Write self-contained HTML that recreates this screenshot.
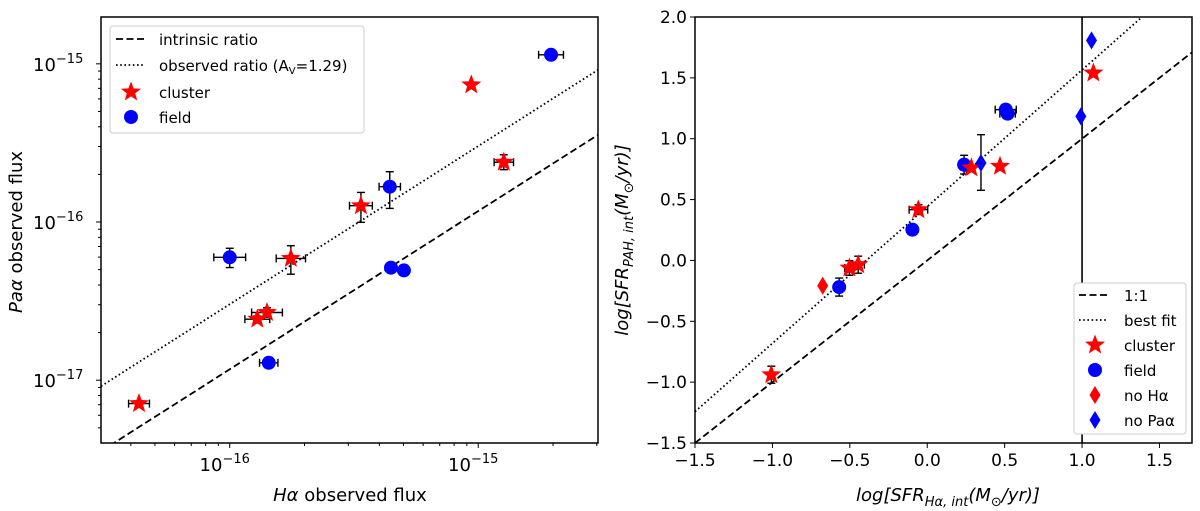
<!DOCTYPE html>
<html><head><meta charset="utf-8">
<style>
html,body{margin:0;padding:0;background:#fff;}
svg{display:block;font-family:"DejaVu Sans","Liberation Sans",sans-serif;}
</style></head>
<body>
<svg id="fig" width="1200" height="511" viewBox="0 0 1200 511" xmlns="http://www.w3.org/2000/svg">
<g id="left"></g>
<g id="right"></g>
</svg>
<script>
// ---------- Left panel data (log10 flux) ----------
const leftXDomain = [-16.518, -14.518];
const leftYDomain = [-17.397, -14.704];
const intrinsicOffset = -0.931;
const observedOffset = -0.52;
const clusterHa = [-15.028, -14.897, -15.472, -15.754, -15.85, -15.889, -16.365];
const clusterPa = [-15.133, -15.622, -15.897, -16.23, -16.572, -16.614, -17.148];
const clusterHaErr = [0, 0.039, 0.046, 0.059, 0.062, 0.05, 0.042];
const clusterPaErrUp = [0, 0.047, 0.084, 0.08, 0.03, 0.02, 0];
const clusterPaErrDn = [0, 0.047, 0.105, 0.1, 0.03, 0.02, 0];
const fieldHa = [-14.707, -15.356, -16.0, -15.351, -15.299, -15.843];
const fieldPa = [-14.943, -15.777, -16.223, -16.289, -16.306, -16.89];
const fieldHaErr = [0.05, 0.043, 0.064, 0, 0, 0.037];
const fieldPaErrUp = [0, 0.095, 0.057, 0, 0, 0];
const fieldPaErrDn = [0, 0.137, 0.065, 0, 0, 0];
const leftDecades = [-16, -15];
const leftYDecades = [-17, -16, -15];

// ---------- Right panel data ----------
const rightXDomain = [-1.5, 1.71];
const rightYDomain = [-1.5, 2.0];
const rightXTicks = [-1.5, -1.0, -0.5, 0.0, 0.5, 1.0, 1.5];
const rightYTicks = [-1.5, -1.0, -0.5, 0.0, 0.5, 1.0, 1.5, 2.0];
const fitSlope = 1.123;
const fitIntercept = 0.442;
const vlineX = 1.0;
const rClusterX = [1.073, 0.47, 0.285, -0.057, -0.446, -0.503, -1.007];
const rClusterY = [1.54, 0.773, 0.76, 0.417, -0.035, -0.062, -0.939];
const rClusterXErr = [0, 0, 0, 0.06, 0.04, 0.03, 0];
const rClusterYErr = [0, 0, 0, 0.04, 0.07, 0.06, 0.07];
const rFieldX = [0.507, 0.519, 0.238, -0.096, -0.569];
const rFieldY = [1.239, 1.206, 0.787, 0.253, -0.219];
const rFieldXErr = [0.068, 0.05, 0, 0, 0];
const rFieldYErr = [0, 0, 0.077, 0, 0.074];
const noHaX = [-0.675];
const noHaY = [-0.208];
const noPaX = [1.061, 0.992, 0.347];
const noPaY = [1.808, 1.184, 0.8];
const noPaYErrUp = [0, 0, 0.233];
const noPaYErrDn = [0, 0, 0.224];

const NS = "http://www.w3.org/2000/svg";
const DASH = "7,3.5", DOT = "1.6,2.6";
function mk(parent, tag, attrs, text) {
  const e = document.createElementNS(NS, tag);
  for (const k in attrs) e.setAttribute(k, attrs[k]);
  if (text !== undefined) e.textContent = text;
  parent.appendChild(e);
  return e;
}
function starPts(cx, cy, R) {
  const r = R * 0.42, p = [];
  for (let i = 0; i < 10; i++) {
    const a = -Math.PI / 2 + i * Math.PI / 5, rr = i % 2 ? r : R;
    p.push((cx + rr * Math.cos(a)).toFixed(1) + "," + (cy + rr * Math.sin(a)).toFixed(1));
  }
  return p.join(" ");
}
function drawStar(g, cx, cy, name) {
  const s = mk(g, "polygon", {points: starPts(cx, cy, 10.5), fill: "#ff0000"});
  
  
}
function drawCircle(g, cx, cy, name) {
  const c = mk(g, "circle", {cx: cx, cy: cy, r: 7, fill: "#0000ff"});
  
  
}
function drawDiamond(g, cx, cy, color, name) {
  const d = mk(g, "polygon", {points: `${cx},${cy-9} ${cx+5.5},${cy} ${cx},${cy+9} ${cx-5.5},${cy}`, fill: color});
  
  
}
function errBar(g, x1, y1, x2, y2, horiz) {
  if (x1 === x2 && y1 === y2) return;
  const e = mk(g, "g", {});
  
  
  mk(e, "line", {x1, y1, x2, y2, stroke: "#000", "stroke-width": 1.4});
  if (horiz) {
    mk(e, "line", {x1: x1, y1: y1 - 4, x2: x1, y2: y1 + 4, stroke: "#000", "stroke-width": 1.4});
    mk(e, "line", {x1: x2, y1: y2 - 4, x2: x2, y2: y2 + 4, stroke: "#000", "stroke-width": 1.4});
  } else {
    mk(e, "line", {x1: x1 - 4, y1: y1, x2: x1 + 4, y2: y1, stroke: "#000", "stroke-width": 1.4});
    mk(e, "line", {x1: x2 - 4, y1: y2, x2: x2 + 4, y2: y2, stroke: "#000", "stroke-width": 1.4});
  }
}

// ================= LEFT PANEL =================
(function () {
  const g = document.getElementById("left");
  const L = 101, R = 598, T = 17, B = 443;
  const sx = v => L + (v - leftXDomain[0]) / (leftXDomain[1] - leftXDomain[0]) * (R - L);
  const sy = v => B - (v - leftYDomain[0]) / (leftYDomain[1] - leftYDomain[0]) * (B - T);
  mk(g, "defs", {}).innerHTML = '<clipPath id="clipL"><rect x="101" y="17" width="497" height="426"/></clipPath>';
  const plot = mk(g, "g", {"clip-path": "url(#clipL)"});
  const il = mk(plot, "line", {x1: sx(leftXDomain[0]), y1: sy(leftXDomain[0] + intrinsicOffset), x2: sx(leftXDomain[1]), y2: sy(leftXDomain[1] + intrinsicOffset), stroke: "#000", "stroke-width": 1.8, "stroke-dasharray": DASH});
  
  
  const ol = mk(plot, "line", {x1: sx(leftXDomain[0]), y1: sy(leftXDomain[0] + observedOffset), x2: sx(leftXDomain[1]), y2: sy(leftXDomain[1] + observedOffset), stroke: "#000", "stroke-width": 1.8, "stroke-dasharray": DOT});
  
  
  clusterHa.forEach((x, i) => {
    const y = clusterPa[i];
    errBar(plot, sx(x - clusterHaErr[i]), sy(y), sx(x + clusterHaErr[i]), sy(y), true);
    errBar(plot, sx(x), sy(y + clusterPaErrUp[i]), sx(x), sy(y - clusterPaErrDn[i]), false);
  });
  fieldHa.forEach((x, i) => {
    const y = fieldPa[i];
    errBar(plot, sx(x - fieldHaErr[i]), sy(y), sx(x + fieldHaErr[i]), sy(y), true);
    errBar(plot, sx(x), sy(y + fieldPaErrUp[i]), sx(x), sy(y - fieldPaErrDn[i]), false);
  });
  clusterHa.forEach((x, i) => drawStar(plot, sx(x), sy(clusterPa[i]), "cluster-point"));
  fieldHa.forEach((x, i) => drawCircle(plot, sx(x), sy(fieldPa[i]), "field-point"));
  const fr = mk(g, "rect", {x: L, y: T, width: R - L, height: B - T, fill: "none", stroke: "#000", "stroke-width": 1.5});
  
  
  const xa = mk(g, "g", {});
  
  
  for (let d = -17; d <= -15; d++) for (let m = 1; m <= 9; m++) {
    const v = d + Math.log10(m);
    if (v < leftXDomain[0] || v > leftXDomain[1]) continue;
    const x = sx(v);
    mk(xa, "line", {x1: x, y1: B, x2: x, y2: B + (m === 1 ? 5 : 3), stroke: "#000", "stroke-width": 1});
  }
  leftDecades.forEach(d => {
    const t = mk(xa, "text", {x: sx(d) - 5, y: B + 28, "font-size": 18, "text-anchor": "middle"});
    t.innerHTML = '10<tspan dy="-8" font-size="13">\u2212' + (-d) + '</tspan>';
  });
  const ya = mk(g, "g", {});
  
  
  for (let d = -18; d <= -15; d++) for (let m = 1; m <= 9; m++) {
    const v = d + Math.log10(m);
    if (v < leftYDomain[0] || v > leftYDomain[1]) continue;
    const y = sy(v);
    mk(ya, "line", {x1: L, y1: y, x2: L - (m === 1 ? 5 : 3), y2: y, stroke: "#000", "stroke-width": 1});
  }
  leftYDecades.forEach(d => {
    const t = mk(ya, "text", {x: 33, y: sy(d) + 7, "font-size": 18});
    t.innerHTML = '10<tspan dy="-8" font-size="13">\u2212' + (-d) + '</tspan>';
  });
  const xt = mk(g, "text", {x: 350, y: 501, "font-size": 18, "text-anchor": "middle"});
  xt.innerHTML = '<tspan font-style="italic">H\u03b1</tspan> observed flux';
  
  
  const yt = mk(g, "text", {x: 0, y: 0, "font-size": 18, "text-anchor": "middle", transform: "translate(22,232) rotate(-90)"});
  yt.innerHTML = '<tspan font-style="italic">Pa\u03b1</tspan> observed flux';
  
  
  const lg = mk(g, "g", {});
  
  
  mk(lg, "rect", {x: 110, y: 26, width: 254, height: 107, rx: 3, fill: "#fff", stroke: "#ccc", "stroke-width": 1});
  mk(lg, "line", {x1: 116, y1: 39, x2: 145, y2: 39, stroke: "#000", "stroke-width": 1.8, "stroke-dasharray": DASH});
  mk(lg, "text", {x: 159, y: 45, "font-size": 15}, "intrinsic ratio");
  mk(lg, "line", {x1: 116, y1: 65, x2: 145, y2: 65, stroke: "#000", "stroke-width": 1.8, "stroke-dasharray": DOT});
  const ot = mk(lg, "text", {x: 159, y: 71, "font-size": 15});
  ot.innerHTML = 'observed ratio (A<tspan dy="3" font-size="10">V</tspan><tspan dy="-3">=1.29)</tspan>';
  drawStar(lg, 131, 92, "legend-cluster-marker");
  mk(lg, "text", {x: 159, y: 98, "font-size": 15}, "cluster");
  drawCircle(lg, 131, 117, "legend-field-marker");
  mk(lg, "text", {x: 159, y: 123, "font-size": 15}, "field");
})();

// ================= RIGHT PANEL =================
(function () {
  const g = document.getElementById("right");
  const L = 695, R = 1192, T = 17, B = 443;
  const sx = v => L + (v - rightXDomain[0]) / (rightXDomain[1] - rightXDomain[0]) * (R - L);
  const sy = v => B - (v - rightYDomain[0]) / (rightYDomain[1] - rightYDomain[0]) * (B - T);
  mk(g, "defs", {}).innerHTML = '<clipPath id="clipR"><rect x="695" y="17" width="497" height="426"/></clipPath>';
  const plot = mk(g, "g", {"clip-path": "url(#clipR)"});
  const x0 = rightXDomain[0], x1 = rightXDomain[1];
  const dl = mk(plot, "line", {x1: sx(x0), y1: sy(x0), x2: sx(x1), y2: sy(x1), stroke: "#000", "stroke-width": 1.8, "stroke-dasharray": DASH});
  
  
  const fl = mk(plot, "line", {x1: sx(x0), y1: sy(fitSlope * x0 + fitIntercept), x2: sx(x1), y2: sy(fitSlope * x1 + fitIntercept), stroke: "#000", "stroke-width": 1.8, "stroke-dasharray": DOT});
  
  
  const vl = mk(plot, "line", {x1: sx(vlineX), y1: T, x2: sx(vlineX), y2: B, stroke: "#000", "stroke-width": 1.6});
  
  
  rClusterX.forEach((x, i) => {
    const y = rClusterY[i];
    errBar(plot, sx(x - rClusterXErr[i]), sy(y), sx(x + rClusterXErr[i]), sy(y), true);
    errBar(plot, sx(x), sy(y + rClusterYErr[i]), sx(x), sy(y - rClusterYErr[i]), false);
  });
  rFieldX.forEach((x, i) => {
    const y = rFieldY[i];
    errBar(plot, sx(x - rFieldXErr[i]), sy(y), sx(x + rFieldXErr[i]), sy(y), true);
    errBar(plot, sx(x), sy(y + rFieldYErr[i]), sx(x), sy(y - rFieldYErr[i]), false);
  });
  noPaX.forEach((x, i) => errBar(plot, sx(x), sy(noPaY[i] + noPaYErrUp[i]), sx(x), sy(noPaY[i] - noPaYErrDn[i]), false));
  rFieldX.forEach((x, i) => drawCircle(plot, sx(x), sy(rFieldY[i]), "field-point"));
  rClusterX.forEach((x, i) => drawStar(plot, sx(x), sy(rClusterY[i]), "cluster-point"));
  noHaX.forEach((x, i) => drawDiamond(plot, sx(x), sy(noHaY[i]), "#ff0000", "no-halpha-point"));
  noPaX.forEach((x, i) => drawDiamond(plot, sx(x), sy(noPaY[i]), "#0000ff", "no-paalpha-point"));
  const fr = mk(g, "rect", {x: L, y: T, width: R - L, height: B - T, fill: "none", stroke: "#000", "stroke-width": 1.5});
  
  
  const xa = mk(g, "g", {});
  
  
  rightXTicks.forEach(v => {
    const x = sx(v);
    mk(xa, "line", {x1: x, y1: B, x2: x, y2: B + 5, stroke: "#000", "stroke-width": 1});
    mk(xa, "text", {x: x, y: B + 23, "font-size": 17, "text-anchor": "middle"}, v.toFixed(1).replace("-", "\u2212"));
  });
  const ya = mk(g, "g", {});
  
  
  rightYTicks.forEach(v => {
    const y = sy(v);
    mk(ya, "line", {x1: L, y1: y, x2: L - 5, y2: y, stroke: "#000", "stroke-width": 1});
    mk(ya, "text", {x: L - 8, y: y + 6, "font-size": 17, "text-anchor": "end"}, v.toFixed(1).replace("-", "\u2212"));
  });
  const xt = mk(g, "text", {x: 948, y: 501, "font-size": 18, "text-anchor": "middle", "font-style": "italic"});
  xt.innerHTML = 'log[SFR<tspan dy="5" font-size="13">H\u03b1, int</tspan><tspan dy="-5">(M</tspan><tspan dy="5" font-size="13">\u2299</tspan><tspan dy="-5">/yr)]</tspan>';
  
  
  const yt = mk(g, "text", {x: 0, y: 0, "font-size": 18, "text-anchor": "middle", "font-style": "italic", transform: "translate(628,240) rotate(-90)"});
  yt.innerHTML = 'log[SFR<tspan dy="5" font-size="13">PAH, int</tspan><tspan dy="-5">(M</tspan><tspan dy="5" font-size="13">\u2299</tspan><tspan dy="-5">/yr)]</tspan>';
  
  
  const lg = mk(g, "g", {});
  
  
  mk(lg, "rect", {x: 1074, y: 283, width: 112, height: 151, rx: 3, fill: "#fff", stroke: "#ccc", "stroke-width": 1});
  mk(lg, "line", {x1: 1079, y1: 295, x2: 1108, y2: 295, stroke: "#000", "stroke-width": 1.8, "stroke-dasharray": DASH});
  mk(lg, "text", {x: 1124, y: 301, "font-size": 15}, "1:1");
  mk(lg, "line", {x1: 1079, y1: 320, x2: 1108, y2: 320, stroke: "#000", "stroke-width": 1.8, "stroke-dasharray": DOT});
  mk(lg, "text", {x: 1124, y: 326, "font-size": 15}, "best fit");
  drawStar(lg, 1095, 345, "legend-cluster-marker");
  mk(lg, "text", {x: 1124, y: 351, "font-size": 15}, "cluster");
  drawCircle(lg, 1095, 370, "legend-field-marker");
  mk(lg, "text", {x: 1124, y: 376, "font-size": 15}, "field");
  drawDiamond(lg, 1095, 395, "#ff0000", "legend-no-halpha-marker");
  mk(lg, "text", {x: 1124, y: 401, "font-size": 15}, "no H\u03b1");
  drawDiamond(lg, 1095, 420, "#0000ff", "legend-no-paalpha-marker");
  mk(lg, "text", {x: 1124, y: 426, "font-size": 15}, "no Pa\u03b1");
})();
</script>
</body></html>
